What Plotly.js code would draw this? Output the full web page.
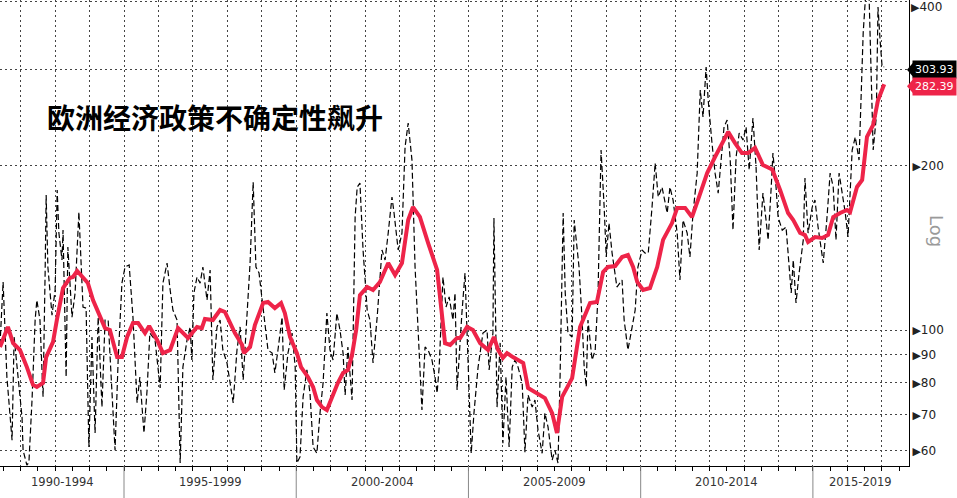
<!DOCTYPE html>
<html><head><meta charset="utf-8">
<script src="https://cdn.plot.ly/plotly-3.0.1.min.js"></script>
<style>html,body{margin:0;padding:0;background:#fff;}#chart{width:957px;height:498px;}</style>
</head><body><div id="chart"></div>
<script>
// ---- data ----
const titleText = '欧洲经济政策不确定性飙升';
const periodLabels = ['1990-1994','1995-1999','2000-2004','2005-2009','2010-2014','2015-2019'];
const periodStarts = [1990,1995,2000,2005,2010,2015];
const yTickVals = [60,70,80,90,100,200,300,400];
const yTickLabels = ['60','70','80','90','100','200','','400'];
const axisLabel = 'Log';

// monthly index (black dashed)
const blkX = [1991.40,1991.49,1991.60,1991.75,1991.81,1991.92,1992.04,1992.07,1992.18,1992.24,1992.33,1992.42,1992.47,1992.56,1992.65,1992.71,1992.74,1992.79,1992.91,1993.00,1993.06,1993.11,1993.20,1993.23,1993.32,1993.37,1993.49,1993.58,1993.69,1993.81,1993.90,1993.98,1994.07,1994.16,1994.25,1994.36,1994.45,1994.54,1994.74,1994.83,1994.94,1995.03,1995.15,1995.26,1995.38,1995.46,1995.58,1995.67,1995.75,1995.90,1996.05,1996.13,1996.25,1996.34,1996.42,1996.54,
1996.63,1996.71,1996.83,1996.92,1996.97,1997.03,1997.12,1997.21,1997.29,1997.41,1997.50,1997.58,1997.70,1997.79,1997.87,1997.99,1998.08,1998.17,1998.28,1998.37,1998.46,1998.57,1998.66,1998.75,1998.83,1998.92,1999.01,1999.09,1999.18,1999.30,1999.38,1999.47,1999.59,1999.65,1999.76,1999.88,1999.97,2000.02,2000.11,2000.20,2000.31,2000.40,2000.49,2000.60,2000.69,2000.78,2000.89,2000.98,2001.07,2001.18,2001.27,2001.36,2001.42,2001.50,2001.62,
2001.71,2001.77,2001.85,2001.94,2002.06,2002.14,2002.23,2002.35,2002.49,2002.58,2002.67,2002.78,2002.84,2002.96,2003.07,2003.16,2003.25,2003.36,2003.45,2003.54,2003.65,2003.74,2003.83,2003.94,2004.03,2004.09,2004.15,2004.26,2004.35,2004.44,2004.55,2004.61,2004.67,2004.81,2004.90,2004.96,2005.08,2005.16,2005.28,2005.42,2005.54,2005.60,2005.71,2005.74,2005.83,2005.92,2006.00,2006.09,2006.18,2006.27,2006.35,2006.44,2006.56,
2006.64,2006.73,2006.85,2006.93,2007.02,2007.14,2007.22,2007.31,2007.43,2007.51,2007.60,2007.66,2007.75,2007.81,2007.89,2008.01,2008.07,2008.15,2008.21,2008.30,2008.36,2008.42,2008.47,2008.59,2008.68,2008.76,2008.85,2008.94,2009.00,2009.08,2009.17,2009.31,2009.46,2009.52,2009.63,2009.72,2009.84,2009.92,2010.04,2010.13,2010.22,2010.33,2010.42,2010.51,2010.62,2010.77,2010.85,2010.94,2011.06,2011.14,2011.23,2011.35,2011.43,2011.52,2011.64,
2011.73,2011.81,2011.90,2011.96,2012.07,2012.16,2012.25,2012.33,2012.42,2012.51,2012.60,2012.68,2012.77,2012.86,2012.97,2013.06,2013.15,2013.26,2013.35,2013.44,2013.55,2013.64,2013.70,2013.79,2013.84,2013.93,2013.99,2014.11,2014.22,2014.28,2014.37,2014.43,2014.51,2014.60,2014.72,2014.77,2014.86,2014.98,2015.06,2015.15,2015.30,2015.41,2015.50,2015.59,2015.67,2015.76,2015.88,2015.94,2016.02,2016.14,2016.23,2016.34,2016.46,2016.55,2016.63,2016.69,2016.75,2016.84,2016.89,2016.95,2017.01,2017.07];
const blkY = [93.9,122.5,82.0,62.8,97.1,82.0,69.2,60.2,56.5,57.2,74.4,104.3,113.5,104.3,75.4,127.2,176.8,130.5,106.5,118.4,180.6,150.6,134.4,152.5,82.0,142.0,105.6,116.9,164.6,110.2,109.7,61.0,97.1,64.7,105.6,72.2,104.3,104.3,60.2,88.1,121.9,130.5,131.6,105.6,73.5,82.0,64.7,77.6,98.7,95.9,78.3,121.9,132.7,118.4,108.8,104.3,
57.0,85.5,95.9,101.3,88.1,116.9,125.1,121.9,130.5,113.5,128.8,81.0,101.3,104.3,91.9,87.0,80.0,73.5,91.9,101.3,81.0,104.3,132.7,186.8,130.5,127.2,113.5,101.3,91.9,90.7,83.4,91.9,105.6,77.6,90.7,98.7,85.5,57.0,58.5,75.4,84.5,76.6,61.0,59.4,70.4,80.0,107.4,91.9,88.1,107.4,100,90.7,76.0,93.1,74.4,
161.1,182.9,186.0,140.2,108.8,104.3,87.0,105.6,140.2,134.4,150.6,175.4,163.9,140.2,150.6,216.6,239.7,205.0,130.5,98.7,71.3,93.1,91.9,88.1,82.0,76.6,85.5,125.1,110.2,115.0,104.3,116.9,77.6,107.4,127.2,98.7,59.4,70.4,85.5,98.7,100,84.5,98.7,160.5,72.2,94.7,62.0,82.0,61.0,85.5,88.1,85.5,80.0,
59.7,76.0,72.2,74.4,65.5,59.4,70.4,66.4,57.7,60.2,57.0,82.0,163.9,116.9,98.7,97.1,159.1,142.0,130.5,104.3,85.5,78.7,104.3,88.1,91.9,115.0,213.9,168.1,136.1,157.1,138.4,119.9,123.5,104.3,91.9,98.7,108.8,130.5,140.2,138.4,138.4,168.1,202.4,175.4,182.9,163.9,182.9,173.2,150.6,123.5,159.1,150.6,136.1,163.9,194.0,
275.6,245.9,303.7,264.2,220.3,194.0,178.3,205.0,235.7,242.8,205.0,152.5,207.6,229.8,223.1,235.7,196.5,244.9,199.0,140.2,178.3,159.1,146.2,182.9,211.2,182.9,161.1,152.5,154.5,138.4,116.9,134.4,112.1,127.2,146.2,190.0,150.6,168.1,173.2,154.5,132.7,161.1,194.0,182.9,146.2,194.0,173.2,163.9,148.1,213.9,226.0,205.0,350.6,430,411.7,283.9,213.9,245.9,391.3,340.4,303.7,303.93];

// moving average (red)
const redX = [1991.40,1991.63,1991.78,1991.98,1992.18,1992.36,1992.47,1992.65,1992.74,1992.94,1993.05,1993.23,1993.43,1993.52,1993.64,1993.81,1993.95,1994.10,1994.30,1994.45,1994.59,1994.80,1994.94,1995.09,1995.26,1995.41,1995.61,1995.73,1995.96,1996.13,1996.34,1996.48,1996.57,1996.86,1997.12,1997.26,1997.35,1997.58,1997.79,1997.93,1998.08,1998.22,1998.43,1998.48,1998.66,1998.80,1999.04,1999.18,1999.38,1999.56,1999.67,1999.82,2000.02,2000.14,2000.34,2000.49,2000.60,2000.75,2000.89,2001.04,2001.21,2001.36,2001.50,2001.62,2001.74,2001.85,2002.06,2002.23,2002.43,2002.67,2002.87,2003.07,2003.25,2003.39,2003.59,2003.83,2004.09,2004.32,2004.47,2004.67,2004.76,2004.96,2005.13,2005.34,2005.57,2005.74,2005.86,2006.00,2006.12,2006.29,2006.59,2006.73,2006.99,2007.22,2007.43,2007.57,2007.72,2008.01,2008.24,2008.53,2008.73,2008.91,2009.05,2009.26,2009.46,2009.63,2009.78,2009.90,2010.07,2010.27,2010.48,2010.65,2010.91,2011.06,2011.29,2011.49,2011.67,2011.93,2012.16,2012.36,2012.54,2012.74,2012.94,2013.12,2013.32,2013.55,2013.82,2014.05,2014.28,2014.43,2014.63,2014.77,2014.86,2015.06,2015.27,2015.44,2015.59,2015.79,2015.99,2016.08,2016.28,2016.43,2016.57,2016.75,2016.89,2017.07];
const redY = [93.1,101.3,94.6,91.9,85.5,79.3,78.6,80.0,89.2,95.1,104.3,119.4,124.6,125.1,128.3,125.1,122.0,113.5,106.5,100.8,100,89.2,89.2,97.1,103.0,103.0,98.7,101.7,95.9,90.7,91.9,97.1,100.8,96.7,101.3,100.8,104.8,104.3,108.8,107.9,103.4,98.7,93.9,90.7,93.1,102.1,112.1,112.6,109.7,112.1,107.4,97.1,90.7,85.5,82.0,78.6,74.4,72.2,71.3,75.4,80.0,83.4,84.5,90.0,100,115.9,119.9,118.4,122.5,132.7,126.2,132.7,159.1,168.1,161.2,144.4,128.9,94.6,93.9,96.7,96.7,101.3,100,94.6,91.9,97.1,91.9,88.9,90.7,89.2,87.0,78.3,76.6,75.0,70.4,64.7,75.4,81.6,101.3,112.1,112.6,127.8,130.5,131.0,136.1,137.3,130.5,122.5,118.4,119.4,130.5,146.3,157.1,167.5,167.5,161.2,173.6,194.1,207.7,220.3,230.9,220.3,211.2,211.2,215.8,200.8,197.0,180.6,163.9,159.1,150.7,149.4,145.0,148.1,147.5,149.4,161.2,163.9,166.0,164.6,183.0,188.5,226.1,237.8,264.0,282.39];

// ---- layout helpers ----
const X0 = 1991.40, X1 = 2017.79;
const YLO = Math.log10(56.3), YHI = Math.log10(403.1);
const PW = 909, PH = 466; // plot area size in px
const RED = '#ee2449';
const px = v => v / PW;
const py = v => (PH - v) / PH;
const xp = yr => (yr - X0) / (X1 - X0);
const yp = val => (Math.log10(val) - YLO) / (YHI - YLO);

const tri = '<span style="font-size:11px">▶</span>';
const topTick = yTickVals[yTickVals.length - 1];
// the top tick label is drawn as an annotation so it is not cut off
const tickText = yTickLabels.map((t, i) => (t && yTickVals[i] !== topTick) ? tri + t : '');

const traces = [
  {x: blkX, y: blkY, type: 'scatter', mode: 'lines', hoverinfo: 'skip',
   line: {color: '#000', width: 1.2, dash: '6px,3px'}},
  {x: redX, y: redY, type: 'scatter', mode: 'lines', hoverinfo: 'skip',
   line: {color: RED, width: 4}}
];

const shapes = [
  {type: 'rect', xref: 'paper', yref: 'paper', layer: 'between',
   x0: px(16), x1: px(382), y0: py(182), y1: py(74), line: {width: 0}, fillcolor: '#fff'},
  {type: 'rect', xref: 'paper', yref: 'paper', layer: 'between',
   x0: px(222), x1: px(352), y0: py(76), y1: py(68), line: {width: 0}, fillcolor: '#fff'}
];
periodStarts.forEach(s => {
  if (s > X0 && s < X1) shapes.push({type: 'line', xref: 'paper', yref: 'paper',
    x0: xp(s), x1: xp(s), y0: 0, y1: -32 / PH, line: {color: '#888', width: 1}});
});

const lastBlk = blkY[blkY.length - 1], lastRed = redY[redY.length - 1];
const labels = [[lastBlk, '#000', -3], [lastRed, RED, -2]];
const annotations = [
  {text: '<b>' + titleText + '</b>', xref: 'paper', yref: 'paper', x: px(45), y: py(117),
   xanchor: 'left', yanchor: 'middle', showarrow: false,
   font: {family: 'Noto Sans CJK SC', size: 28, color: '#000'}},
  {text: axisLabel, xref: 'paper', yref: 'paper', x: px(937), y: py(231), textangle: 90,
   xanchor: 'center', yanchor: 'middle', showarrow: false,
   font: {family: 'DejaVu Sans', size: 18, color: '#9a9a9a'}},
  {text: tri + yTickLabels[yTickLabels.length - 1], xref: 'paper', yref: 'paper', x: px(910), y: 1,
   xanchor: 'left', yanchor: 'top', showarrow: false, borderpad: 0, yshift: 1,
   font: {family: 'DejaVu Sans', size: 12, color: '#222'}}
];
periodLabels.forEach((t, i) => {
  const a = Math.max(periodStarts[i], X0), b = Math.min(periodStarts[i] + 5, X1);
  annotations.push({text: t, xref: 'paper', yref: 'paper', x: xp((a + b) / 2), y: -16 / PH,
    xanchor: 'center', yanchor: 'middle', showarrow: false,
    font: {family: 'DejaVu Sans', size: 11.5, color: '#333'}});
});
labels.forEach(([v, c, sh]) => {
  const yy = yp(v) + sh / PH;
  annotations.push({text: v.toFixed(2), xref: 'paper', yref: 'paper', x: px(912), y: yy,
    xanchor: 'left', yanchor: 'middle', showarrow: false, bgcolor: c, borderpad: 2,
    font: {family: 'DejaVu Sans', size: 11, color: '#fff'}});
  shapes.push({type: 'path', xref: 'paper', yref: 'paper', fillcolor: c, line: {width: 0},
    path: `M ${px(907)} ${yy} L ${px(913)} ${yy + 7 / PH} L ${px(913)} ${yy - 7 / PH} Z`});
});

const layout = {
  width: 957, height: 498,
  margin: {l: 0, r: 48, t: 0, b: 32, pad: 0},
  paper_bgcolor: '#fff', plot_bgcolor: '#fff',
  showlegend: false,
  xaxis: {
    range: [X0, X1], tick0: 1990, dtick: 1, showticklabels: false,
    showgrid: true, gridcolor: '#444', griddash: '2px,3px', gridwidth: 1,
    ticks: 'outside', ticklen: 4, tickcolor: '#000', tickwidth: 1,
    showline: true, linecolor: '#000', linewidth: 1, zeroline: false,
    minor: {tick0: 1990, dtick: 0.5, ticks: 'outside', ticklen: 4, tickcolor: '#000', showgrid: false}
  },
  yaxis: {
    type: 'log', range: [YLO, YHI], side: 'right',
    tickvals: yTickVals, ticktext: tickText, ticks: '', ticklabeloverflow: 'allow',
    tickfont: {family: 'DejaVu Sans', size: 12, color: '#222'},
    showgrid: true, gridcolor: '#444', griddash: '2px,3px', gridwidth: 1,
    showline: true, linecolor: '#000', linewidth: 1, zeroline: false
  },
  shapes: shapes,
  annotations: annotations
};

Plotly.newPlot('chart', traces, layout, {staticPlot: true, displayModeBar: false});
</script>
</body></html>
